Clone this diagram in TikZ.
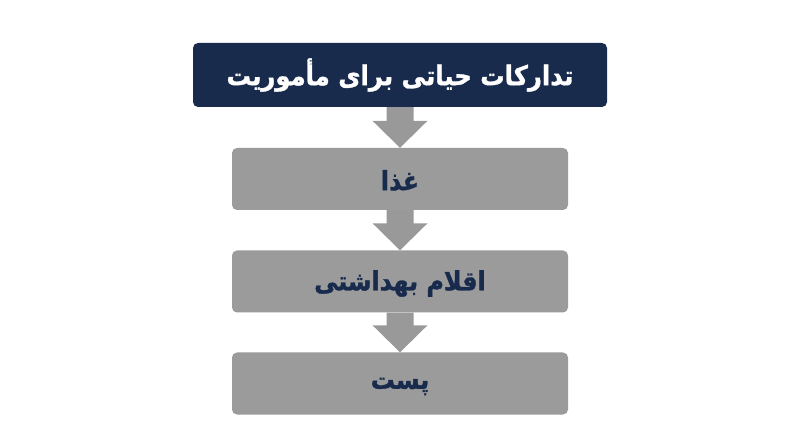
\documentclass[tikz,border=0pt]{standalone}
\usepackage{fontspec}
\usetikzlibrary{calc}
\TeXXeTstate=1
\newfontfamily\arabicfont[Script=Arabic, FakeStretch=0.9, BoldFeatures={FakeBold=1.2}]{DejaVu Sans}
\definecolor{navy}{HTML}{182B4D}
\definecolor{boxgrey}{HTML}{9B9B9B}
\definecolor{arrowgrey}{HTML}{999999}
\newcommand\lowertext[2]{\raisebox{-#1}[\height][\depth]{#2}}
\tikzset{
  headbox/.style={fill=navy, rounded corners=5pt, minimum width=414pt, minimum height=64pt, inner sep=0pt, text=white, font=\arabicfont\bfseries\fontsize{27}{31}\selectfont},
  greybox/.style={fill=boxgrey, rounded corners=5pt, minimum width=336pt, minimum height=62pt, inner sep=0pt, text=navy, font=\arabicfont\bfseries\fontsize{26.5}{30}\selectfont},
}
\newcommand\blkarrow[2]{%
  \fill[arrowgrey] ($(#1.south)+(-13.5,0)$) -- ($(#2.north)+(-13.5,27)$) -- ($(#2.north)+(-27.5,27)$) -- (#2.north) -- ($(#2.north)+(27.5,27)$) -- ($(#2.north)+(13.5,27)$) -- ($(#1.south)+(13.5,0)$) -- cycle;}
\begin{document}
\begin{tikzpicture}[x=1pt,y=1pt]
\fill[white] (0,0) rectangle (800,447);
\useasboundingbox (0,0) rectangle (800,447);
\node[headbox] (top) at (400,372) {\beginR تدارکات حیاتی برای مأموریت\endR};
\node[greybox] (food) at (400,268) {\lowertext{1.5pt}{\beginR غذا\endR}};
\node[greybox] (hyg) at (400,165.5) {\lowertext{2pt}{\beginR اقلام بهداشتی\endR}};
\node[greybox] (post) at (400,63.5) {\lowertext{3pt}{\beginR پست\endR}};
\blkarrow{top}{food}
\blkarrow{food}{hyg}
\blkarrow{hyg}{post}
\end{tikzpicture}
\end{document}
